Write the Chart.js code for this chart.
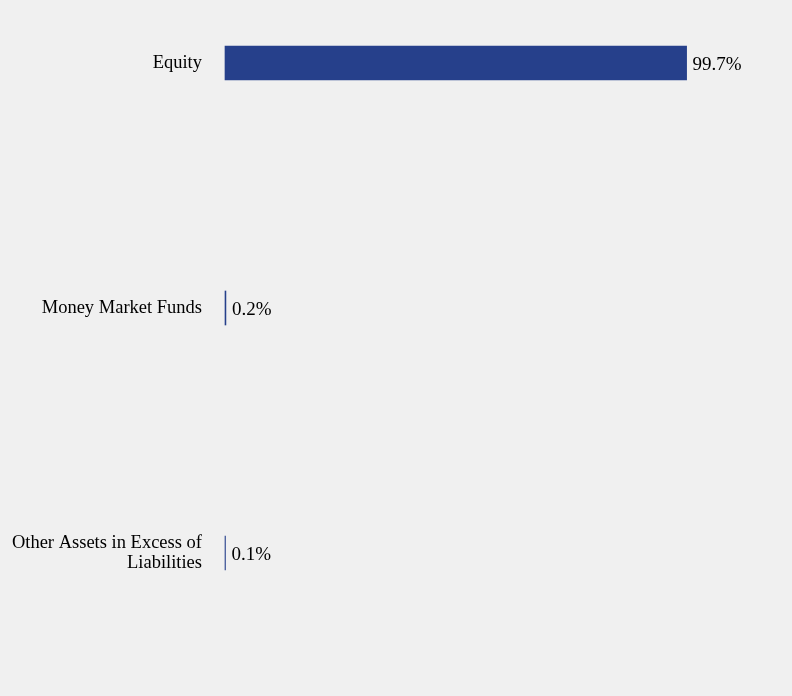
<!DOCTYPE html>
<html>
<head>
<meta charset="utf-8">
<script src="https://cdn.jsdelivr.net/npm/chart.js@4"></script>
<style>
  html, body { margin: 0; padding: 0; background: #f0f0f0; }
  #wrap { width: 792px; height: 696px; }
</style>
</head>
<body>
<div id="wrap"><canvas id="allocChart"></canvas></div>
<script>
const labels = ['Equity', 'Money Market Funds', ['Other Assets in Excess of', 'Liabilities']];
const values = [99.7, 0.2, 0.1];
const valueText = ['99.7%', '0.2%', '0.1%'];

const FONT = "'Liberation Serif', 'Times New Roman', serif";

// writes the percentage just after the end of each bar
const barLabels = {
    id: 'barLabels',
    afterDatasetsDraw(chart) {
        const c = chart.ctx;
        const meta = chart.getDatasetMeta(0);
        c.save();
        c.font = '19px ' + FONT;
        c.fillStyle = '#000';
        c.textBaseline = 'middle';
        c.textAlign = 'left';
        meta.data.forEach((bar, i) => {
            c.fillText(valueText[i], bar.x + 6, bar.y + 2);
        });
        c.restore();
    }
};

const ctx = document.getElementById('allocChart');
new Chart(ctx, {
    type: 'bar',
    data: {
        labels: labels,
        datasets: [{
            data: values,
            backgroundColor: '#26408b',
            barThickness: 34,
            clip: false
        }]
    },
    options: {
        indexAxis: 'y',
        responsive: true,
        maintainAspectRatio: false,
        animation: false,
        layout: { padding: { left: 0, right: 104, top: 63, bottom: 143 } },
        plugins: {
            legend: { display: false },
            tooltip: { enabled: false }
        },
        scales: {
            x: {
                display: false,
                min: 0,
                max: 100
            },
            y: {
                offset: false,
                grid: { display: false },
                border: { display: false },
                ticks: {
                    color: '#000',
                    padding: 15,
                    font: { family: FONT, size: 18.5, lineHeight: 1.05 }
                },
                afterFit(scale) { scale.width = 225; }
            }
        }
    },
    plugins: [barLabels]
});
</script>
</body>
</html>
